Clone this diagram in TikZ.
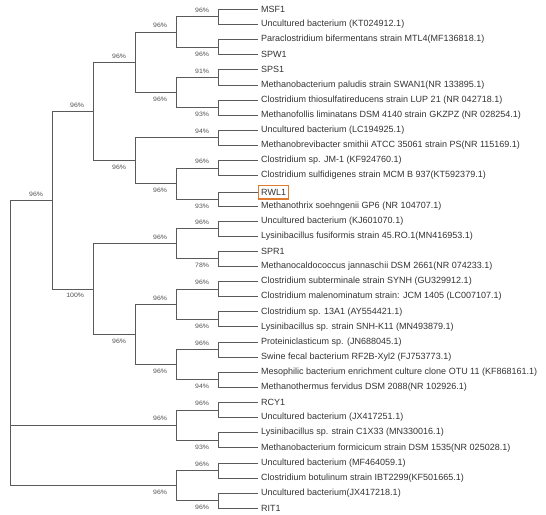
\documentclass[tikz,border=0pt]{standalone}
\usepackage{fontspec}
\setmainfont{Liberation Sans}
\newfontfamily\lblfont[FakeStretch=1.1]{Liberation Sans}
\definecolor{brc}{HTML}{5A5A5A}
\definecolor{txc}{HTML}{333333}
\definecolor{lbc}{HTML}{505050}
\definecolor{boxc}{HTML}{E07A2E}
\tikzset{
  br/.style={draw=brc, line width=0.8pt},
  leaf/.style={anchor=west, inner xsep=3pt, inner ysep=1.5pt, text=txc, font=\fontsize{9}{10}\selectfont},
  hilite/.style={draw=boxc, line width=1.4pt, inner xsep=2.5pt, minimum height=13.5pt},
  lup/.style={anchor=east, inner sep=0pt, xshift=-8.5pt, yshift=6.3pt, text=lbc, font=\lblfont\fontsize{6.3}{7}\selectfont},
  ldn/.style={anchor=east, inner sep=0pt, xshift=-8.5pt, yshift=-6.8pt, text=lbc, font=\lblfont\fontsize{6.3}{7}\selectfont}
}
\begin{document}
\begin{tikzpicture}[x=1pt, y=-1pt]
\useasboundingbox (0,0) rectangle (546,514);
% leaves
\node[leaf] (l0) at (258,9.3) {MSF1};
\node[leaf] (l1) at (258,24.42) {Uncultured bacterium (KT024912.1)};
\node[leaf] (l2) at (258,39.54) {Paraclostridium bifermentans strain MTL4(MF136818.1)};
\node[leaf] (l3) at (258,54.66) {SPW1};
\node[leaf] (l4) at (258,69.78) {SPS1};
\node[leaf] (l5) at (258,84.9) {Methanobacterium paludis strain SWAN1(NR 133895.1)};
\node[leaf] (l6) at (258,100.02) {Clostridium thiosulfatireducens strain LUP 21 (NR 042718.1)};
\node[leaf] (l7) at (258,115.14) {Methanofollis liminatans DSM 4140 strain GKZPZ (NR 028254.1)};
\node[leaf] (l8) at (258,130.26) {Uncultured bacterium (LC194925.1)};
\node[leaf] (l9) at (258,145.38) {Methanobrevibacter smithii ATCC 35061 strain PS(NR 115169.1)};
\node[leaf] (l10) at (258,160.5) {Clostridium sp. JM-1 (KF924760.1)};
\node[leaf] (l11) at (258,175.62) {Clostridium sulfidigenes strain MCM B 937(KT592379.1)};
\node[leaf, hilite] (l12) at (258,192.2) {RWL1};
\node[leaf] (l13) at (258,206.4) {Methanothrix soehngenii GP6 (NR 104707.1)};
\node[leaf] (l14) at (258,220.98) {Uncultured bacterium (KJ601070.1)};
\node[leaf] (l15) at (258,236.1) {Lysinibacillus fusiformis strain 45.RO.1(MN416953.1)};
\node[leaf] (l16) at (258,251.22) {SPR1};
\node[leaf] (l17) at (258,266.34) {Methanocaldococcus jannaschii DSM 2661(NR 074233.1)};
\node[leaf] (l18) at (258,281.46) {Clostridium subterminale strain SYNH (GU329912.1)};
\node[leaf] (l19) at (258,296.58) {Clostridium malenominatum strain: JCM 1405 (LC007107.1)};
\node[leaf] (l20) at (258,311.7) {Clostridium sp. 13A1 (AY554421.1)};
\node[leaf] (l21) at (258,326.82) {Lysinibacillus sp. strain SNH-K11 (MN493879.1)};
\node[leaf] (l22) at (258,341.94) {Proteiniclasticum sp. (JN688045.1)};
\node[leaf] (l23) at (258,357.06) {Swine fecal bacterium RF2B-Xyl2 (FJ753773.1)};
\node[leaf] (l24) at (258,372.18) {Mesophilic bacterium enrichment culture clone OTU 11 (KF868161.1)};
\node[leaf] (l25) at (258,387.3) {Methanothermus fervidus DSM 2088(NR 102926.1)};
\node[leaf] (l26) at (258,402.42) {RCY1};
\node[leaf] (l27) at (258,417.54) {Uncultured bacterium (JX417251.1)};
\node[leaf] (l28) at (258,432.66) {Lysinibacillus sp. strain C1X33 (MN330016.1)};
\node[leaf] (l29) at (258,447.78) {Methanobacterium formicicum strain DSM 1535(NR 025028.1)};
\node[leaf] (l30) at (258,462.9) {Uncultured bacterium (MF464059.1)};
\node[leaf] (l31) at (258,478.02) {Clostridium botulinum strain IBT2299(KF501665.1)};
\node[leaf] (l32) at (258,493.14) {Uncultured bacterium(JX417218.1)};
\node[leaf] (l33) at (258,508.26) {RIT1};
% internal nodes
\coordinate (p0) at (218,16.86);
\coordinate (p2) at (218,47.1);
\coordinate (p4) at (218,77.34);
\coordinate (p6) at (218,107.58);
\coordinate (p8) at (218,137.82);
\coordinate (p10) at (218,168.06);
\coordinate (p12) at (218,199.3);
\coordinate (p14) at (218,228.54);
\coordinate (p16) at (218,258.78);
\coordinate (p18) at (218,289.02);
\coordinate (p20) at (218,319.26);
\coordinate (p22) at (218,349.5);
\coordinate (p24) at (218,379.74);
\coordinate (p26) at (218,409.98);
\coordinate (p28) at (218,440.22);
\coordinate (p30) at (218,470.46);
\coordinate (p32) at (218,500.7);
\coordinate (nA) at (176,31.98);
\coordinate (nB) at (176,92.46);
\coordinate (nC) at (135,62.22);
\coordinate (nD) at (176,183.68);
\coordinate (nE) at (135,160.75);
\coordinate (nF) at (93,111.5);
\coordinate (nG) at (176,243.66);
\coordinate (nH) at (176,304.14);
\coordinate (nI) at (176,364.62);
\coordinate (nJ) at (135,334.38);
\coordinate (nK) at (93,289.02);
\coordinate (nL) at (52,200.26);
\coordinate (nM) at (176,425.1);
\coordinate (nN) at (176,485.58);
\coordinate (nR) at (10,342.9);
% leaf branches
\foreach \p/\a/\b in {p0/l0/l1, p2/l2/l3, p4/l4/l5, p6/l6/l7, p8/l8/l9, p10/l10/l11, p12/l12/l13, p14/l14/l15, p16/l16/l17, p18/l18/l19, p20/l20/l21, p22/l22/l23, p24/l24/l25, p26/l26/l27, p28/l28/l29, p30/l30/l31, p32/l32/l33}
  {\draw[br] (\p) |- (\a.west); \draw[br] (\p) |- (\b.west);}
% internal branches with support values
\draw[br] (nA) |- (p0) node[lup] {96\%};
\draw[br] (nA) |- (p2) node[ldn] {96\%};
\draw[br] (nB) |- (p4) node[lup] {91\%};
\draw[br] (nB) |- (p6) node[ldn] {93\%};
\draw[br] (nC) |- (nA) node[lup] {96\%};
\draw[br] (nC) |- (nB) node[ldn] {96\%};
\draw[br] (nD) |- (p10) node[lup] {96\%};
\draw[br] (nD) |- (p12) node[ldn] {93\%};
\draw[br] (nE) |- (p8) node[lup] {94\%};
\draw[br] (nE) |- (nD) node[ldn] {96\%};
\draw[br] (nF) |- (nC) node[lup] {96\%};
\draw[br] (nF) |- (nE) node[ldn] {96\%};
\draw[br] (nG) |- (p14) node[lup] {96\%};
\draw[br] (nG) |- (p16) node[ldn] {78\%};
\draw[br] (nH) |- (p18) node[lup] {96\%};
\draw[br] (nH) |- (p20) node[ldn] {96\%};
\draw[br] (nI) |- (p22) node[lup] {96\%};
\draw[br] (nI) |- (p24) node[ldn] {94\%};
\draw[br] (nJ) |- (nH) node[lup] {96\%};
\draw[br] (nJ) |- (nI) node[ldn] {96\%};
\draw[br] (nK) |- (nG) node[lup] {96\%};
\draw[br] (nK) |- (nJ) node[ldn] {96\%};
\draw[br] (nL) |- (nF) node[lup] {96\%};
\draw[br] (nL) |- (nK) node[ldn] {100\%};
\draw[br] (nM) |- (p26) node[lup] {96\%};
\draw[br] (nM) |- (p28) node[ldn] {93\%};
\draw[br] (nN) |- (p30) node[lup] {96\%};
\draw[br] (nN) |- (p32) node[ldn] {96\%};
\draw[br] (nR) |- (nL) node[lup] {96\%};
\draw[br] (nR) |- (nM) node[lup] {96\%};
\draw[br] (nR) |- (nN) node[ldn] {96\%};
\end{tikzpicture}
\end{document}
